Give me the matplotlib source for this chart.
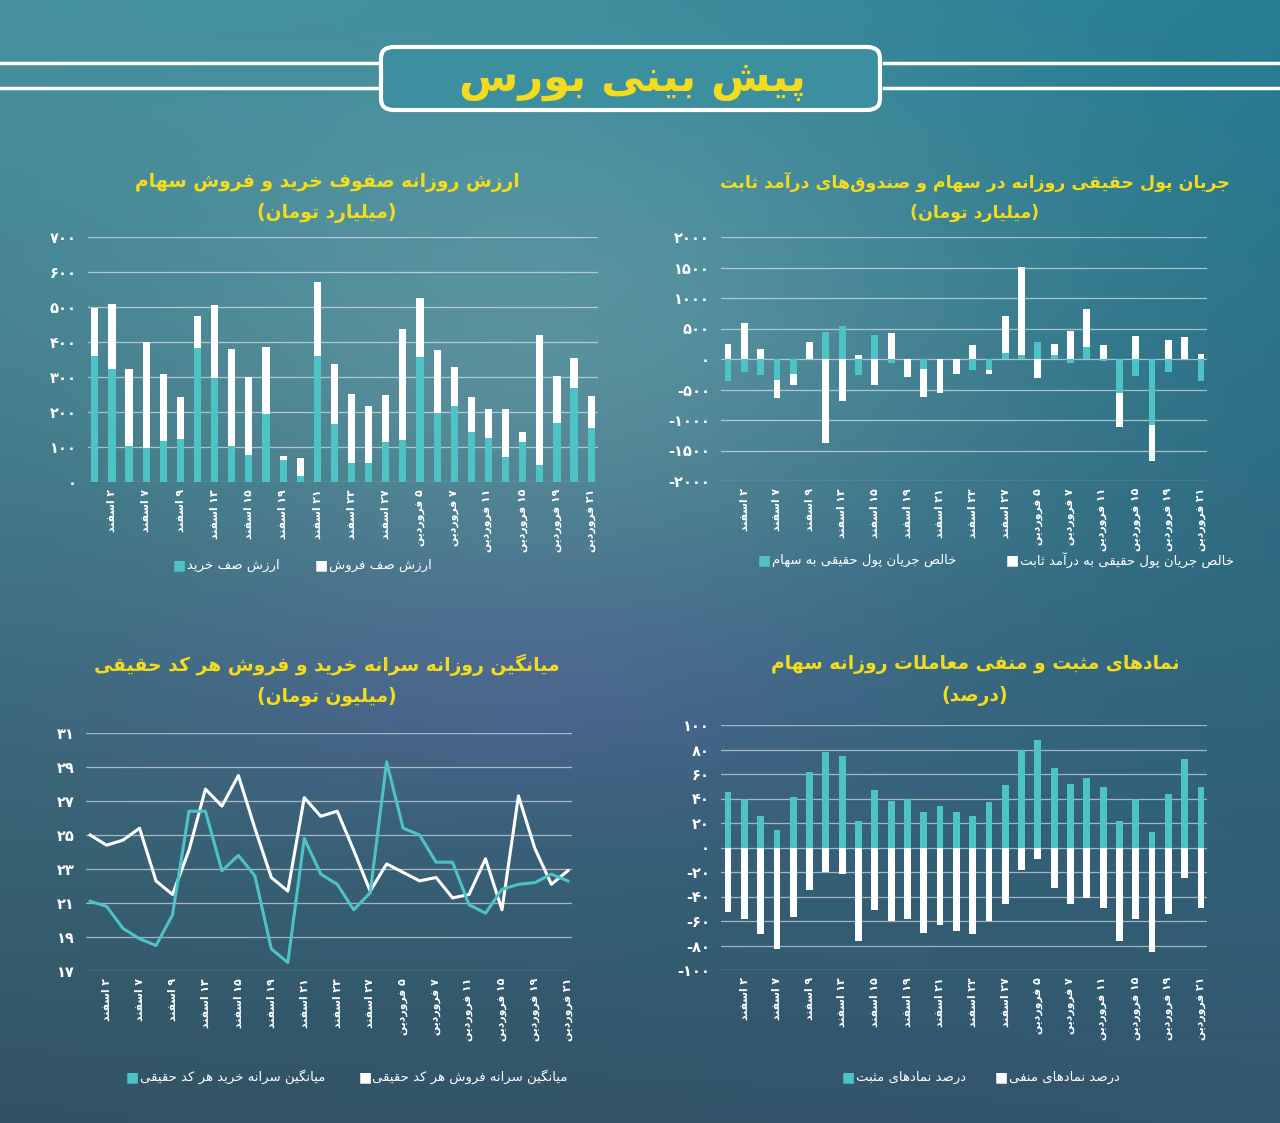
import numpy as np
import matplotlib
matplotlib.use("Agg")
import matplotlib.pyplot as plt
from matplotlib.patches import FancyBboxPatch

# ---- data ----
date_labels = ["۲ اسفند", "۷ اسفند", "۹ اسفند", "۱۳ اسفند", "۱۵ اسفند", "۱۹ اسفند", "۲۱ اسفند",
               "۲۳ اسفند", "۲۷ اسفند", "۵ فروردین", "۷ فروردین", "۱۱ فروردین", "۱۵ فروردین",
               "۱۹ فروردین", "۲۱ فروردین"]
n_days = 30

# queue values (billion toman)
buy_queue = [359, 324, 103, 98, 116, 124, 383, 296, 103, 76, 194, 62, 16, 359, 167,
             53, 53, 113, 119, 357, 198, 217, 142, 126, 71, 113, 50, 168, 269, 155]
queue_total = [497, 510, 322, 400, 309, 244, 474, 507, 379, 299, 387, 74, 69, 572, 336,
               252, 217, 250, 438, 526, 377, 328, 244, 210, 210, 143, 419, 302, 353, 247]
sell_queue = [t - b for t, b in zip(queue_total, buy_queue)]

# real money flow (billion toman)
flow_stock = [-357, -211, -265, -346, -254, 0, 449, 536, -265, 395, -70, 0, -168, 0, 0,
              -184, -184, 97, 70, 281, 70, -70, 189, -38, -552, -281, -1077, -211, 0, -362]
flow_fixed = [238, 595, 168, -298, -173, 276, -1380, -682, 70, -427, 422, -298, -460, -552, -254,
              227, -70, 611, 1444, -319, 173, 465, 633, 227, -568, 384, -595, 314, 357, 86]

# per-capita (million toman)
per_cap_buy = [21.1, 20.8, 19.5, 18.9, 18.5, 20.3, 26.4, 26.4, 22.9, 23.8, 22.6, 18.3, 17.5, 24.8, 22.7,
               22.1, 20.6, 21.6, 29.3, 25.4, 25.0, 23.4, 23.4, 20.9, 20.4, 21.8, 22.1, 22.2, 22.7, 22.3]
per_cap_sell = [25.0, 24.4, 24.7, 25.4, 22.3, 21.5, 24.1, 27.7, 26.7, 28.5, 25.4, 22.5, 21.7, 27.2, 26.1,
                26.4, 24.1, 21.7, 23.3, 22.8, 22.3, 22.5, 21.3, 21.5, 23.6, 20.6, 27.3, 24.2, 22.1, 22.9]

# positive / negative symbols (percent)
pos_pct = [45, 40, 26, 14, 41, 62, 78, 75, 22, 47, 38, 40, 29, 34, 29,
           26, 37, 51, 80, 88, 65, 52, 57, 49, 22, 40, 13, 44, 72, 49]
neg_pct = [-53, -58, -71, -83, -57, -35, -20, -22, -76, -51, -60, -58, -70, -63, -68,
           -71, -60, -46, -18, -9, -33, -46, -41, -49, -76, -58, -85, -54, -25, -49]

TEAL = "#4dc3c6"
WHITE = "#ffffff"
YELLOW = "#f3dc1e"
FONT = "DejaVu Sans"

# ---- tiny Persian shaper (no arabic_reshaper available) ----
FORMS = {
    'ا': (0xFE8D, 0xFE8E, None, None), 'آ': (0xFE81, 0xFE82, None, None),
    'ب': (0xFE8F, 0xFE90, 0xFE91, 0xFE92), 'پ': (0xFB56, 0xFB57, 0xFB58, 0xFB59),
    'ت': (0xFE95, 0xFE96, 0xFE97, 0xFE98), 'ث': (0xFE99, 0xFE9A, 0xFE9B, 0xFE9C),
    'ج': (0xFE9D, 0xFE9E, 0xFE9F, 0xFEA0), 'چ': (0xFB7A, 0xFB7B, 0xFB7C, 0xFB7D),
    'ح': (0xFEA1, 0xFEA2, 0xFEA3, 0xFEA4), 'خ': (0xFEA5, 0xFEA6, 0xFEA7, 0xFEA8),
    'د': (0xFEA9, 0xFEAA, None, None), 'ذ': (0xFEAB, 0xFEAC, None, None),
    'ر': (0xFEAD, 0xFEAE, None, None), 'ز': (0xFEAF, 0xFEB0, None, None),
    'ژ': (0xFB8A, 0xFB8B, None, None),
    'س': (0xFEB1, 0xFEB2, 0xFEB3, 0xFEB4), 'ش': (0xFEB5, 0xFEB6, 0xFEB7, 0xFEB8),
    'ص': (0xFEB9, 0xFEBA, 0xFEBB, 0xFEBC), 'ض': (0xFEBD, 0xFEBE, 0xFEBF, 0xFEC0),
    'ط': (0xFEC1, 0xFEC2, 0xFEC3, 0xFEC4), 'ظ': (0xFEC5, 0xFEC6, 0xFEC7, 0xFEC8),
    'ع': (0xFEC9, 0xFECA, 0xFECB, 0xFECC), 'غ': (0xFECD, 0xFECE, 0xFECF, 0xFED0),
    'ف': (0xFED1, 0xFED2, 0xFED3, 0xFED4), 'ق': (0xFED5, 0xFED6, 0xFED7, 0xFED8),
    'ک': (0xFB8E, 0xFB8F, 0xFB90, 0xFB91), 'گ': (0xFB92, 0xFB93, 0xFB94, 0xFB95),
    'ل': (0xFEDD, 0xFEDE, 0xFEDF, 0xFEE0), 'م': (0xFEE1, 0xFEE2, 0xFEE3, 0xFEE4),
    'ن': (0xFEE5, 0xFEE6, 0xFEE7, 0xFEE8), 'و': (0xFEED, 0xFEEE, None, None),
    'ه': (0xFEE9, 0xFEEA, 0xFEEB, 0xFEEC), 'ی': (0xFBFC, 0xFBFD, 0xFBFE, 0xFBFF),
}


def shape_word(w):
    out = []
    for i, c in enumerate(w):
        if c == '\u200c':
            continue
        if c not in FORMS:
            out.append(c)
            continue
        prev = w[i - 1] if i > 0 else None
        nxt = w[i + 1] if i + 1 < len(w) else None
        jp = prev in FORMS and FORMS[prev][2] is not None
        jn = nxt in FORMS and FORMS[c][2] is not None
        f = FORMS[c]
        g = f[3] if (jp and jn) else f[1] if jp else f[2] if jn else f[0]
        out.append(chr(g))
    return out


def fa(text):
    toks = []
    for t in reversed(text.split(' ')):
        if any(c in FORMS for c in t):
            toks.append(''.join(reversed(shape_word(t))))
        else:
            toks.append(t)
    s = ' '.join(toks)
    return s.translate(str.maketrans('()', ')('))


def fa_num(v):
    return str(v).translate(str.maketrans('0123456789', '۰۱۲۳۴۵۶۷۸۹'))


# ---- figure & background ----
W, H = 1280, 1123
fig = plt.figure(figsize=(12.8, 11.23), dpi=100)
bg = fig.add_axes([0, 0, 1, 1], zorder=-10)
yy, xx = np.mgrid[0:1:300j, 0:1:300j]
tl = np.array([70, 145, 158]); tr = np.array([38, 125, 146])
bl = np.array([50, 82, 100]); br = np.array([52, 86, 110])
img = ((1 - xx)[..., None] * (1 - yy)[..., None] * tl + xx[..., None] * (1 - yy)[..., None] * tr
       + (1 - xx)[..., None] * yy[..., None] * bl + xx[..., None] * yy[..., None] * br)
glow = np.exp(-(((xx - 0.45) / 0.35) ** 2 + ((yy - 0.3) / 0.25) ** 2))
img = img + glow[..., None] * np.array([35, 25, 20])
purple = np.exp(-(((xx - 0.4) / 0.3) ** 2 + ((yy - 0.62) / 0.12) ** 2))
img = img + purple[..., None] * np.array([15, -5, 15])
bg.imshow(np.clip(img, 0, 255).astype(np.uint8), aspect='auto', extent=[0, 1, 0, 1],
          interpolation='bilinear')
bg.set_xlim(0, 1); bg.set_ylim(0, 1); bg.axis('off')


def fx(px):
    return px / W


def fy(py):
    return 1 - py / H


# header
for py in (63, 88):
    fig.add_artist(plt.Line2D([0, fx(378)], [fy(py), fy(py)], color='white', lw=2.5))
    fig.add_artist(plt.Line2D([fx(884), 1], [fy(py), fy(py)], color='white', lw=2.5))
fig.add_artist(FancyBboxPatch((fx(381), fy(110)), fx(499), fy(47) - fy(110),
                              boxstyle="round,pad=0,rounding_size=0.01",
                              fc="#3b8f9f", ec='white', lw=3, transform=fig.transFigure))
fig.text(fx(632), fy(80), fa("پیش بینی بورس"), color=YELLOW, fontsize=31,
         fontweight='bold', family=FONT, ha='center', va='center')


def setup(ax, ylim, yticks, xlim):
    ax.set_facecolor('none')
    ax.set_ylim(*ylim)
    ax.set_xlim(*xlim)
    ax.set_yticks(yticks)
    ax.set_yticklabels([fa_num(v) for v in yticks], color='white', fontsize=10.5,
                       fontweight='bold', family=FONT)
    ax.set_xticks(range(1, n_days, 2))
    ax.set_xticklabels([fa(l) for l in date_labels], rotation=90, color='white',
                       fontsize=7.8, fontweight='bold', family=FONT, va='top', ha='center')
    for s in ax.spines.values():
        s.set_visible(False)
    ax.tick_params(length=0)
    ax.tick_params(axis='x', pad=5)
    ax.tick_params(axis='y', pad=8)
    ax.yaxis.grid(True, color='white', alpha=0.55, lw=0.9)
    ax.set_axisbelow(True)


def titles(cx, y1, t1, t2, size=13.5):
    fig.text(fx(cx), fy(y1), fa(t1), color=YELLOW, fontsize=size, fontweight='bold',
             family=FONT, ha='center', va='center')
    fig.text(fx(cx), fy(y1 + 31), fa(t2), color=YELLOW, fontsize=size, fontweight='bold',
             family=FONT, ha='center', va='center')


renderer = fig.canvas.get_renderer()


def legend(items, y):
    # items: (right_end_px, color, label); square sits left of the text
    for xr, c, lab in items:
        t = fig.text(fx(xr), fy(y), fa(lab), color='white', fontsize=9.5, family=FONT,
                     ha='right', va='center')
        bb = t.get_window_extent(renderer)
        fig.text(bb.x0 / W - fx(1), fy(y), "■", color=c, fontsize=10, family=FONT,
                 ha='right', va='center')


x = np.arange(n_days)
bw = 0.42

# top-left: queues
ax1 = fig.add_axes([fx(88), fy(482), fx(510), fy(237) - fy(482)])
setup(ax1, (0, 700), range(0, 701, 100), (-0.4, 29.4))
ax1.bar(x, buy_queue, bw, color=TEAL)
ax1.bar(x, sell_queue, bw, bottom=buy_queue, color=WHITE)
titles(327, 182, "ارزش روزانه صفوف خرید و فروش سهام", "(میلیارد تومان)")
legend([(280, TEAL, "ارزش صف خرید"), (432, WHITE, "ارزش صف فروش")], 565)

# top-right: money flow
ax2 = fig.add_axes([fx(721), fy(481), fx(486), fy(237) - fy(481)])
setup(ax2, (-2000, 2000), range(-2000, 2001, 500), (-0.43, 29.37))
fs = np.array(flow_stock, float); ff = np.array(flow_fixed, float)
ax2.bar(x, fs, bw, color=TEAL)
fbot = np.where(np.sign(ff) == np.sign(fs), fs, 0)
ax2.bar(x, ff, bw, bottom=fbot, color=WHITE)
titles(975, 182, "جریان پول حقیقی روزانه در سهام و صندوق‌های درآمد ثابت", "(میلیارد تومان)",
       size=12.5)
legend([(956, TEAL, "خالص جریان پول حقیقی به سهام"), (1234, WHITE, "خالص جریان پول حقیقی به درآمد ثابت")], 560)

# bottom-left: per-capita lines
ax3 = fig.add_axes([fx(86), fy(971), fx(486), fy(733) - fy(971)])
setup(ax3, (17, 31), range(17, 32, 2), (-0.25, 29.25))
ax3.plot(x, per_cap_sell, color=WHITE, lw=2.2)
ax3.plot(x, per_cap_buy, color=TEAL, lw=2.2)
titles(327, 665, "میانگین روزانه سرانه خرید و فروش هر کد حقیقی", "(میلیون تومان)")
legend([(325, TEAL, "میانگین سرانه خرید هر کد حقیقی"), (568, WHITE, "میانگین سرانه فروش هر کد حقیقی")], 1077)

# bottom-right: positive / negative
ax4 = fig.add_axes([fx(721), fy(970), fx(486), fy(725) - fy(970)])
setup(ax4, (-100, 100), range(-100, 101, 20), (-0.43, 29.37))
ax4.bar(x, pos_pct, bw, color=TEAL)
ax4.bar(x, neg_pct, bw, color=WHITE)
titles(975, 665, "نمادهای مثبت و منفی معاملات روزانه سهام", "(درصد)")
legend([(966, TEAL, "درصد نمادهای مثبت"), (1120, WHITE, "درصد نمادهای منفی")], 1077)

fig.savefig("out.png", dpi=100)
